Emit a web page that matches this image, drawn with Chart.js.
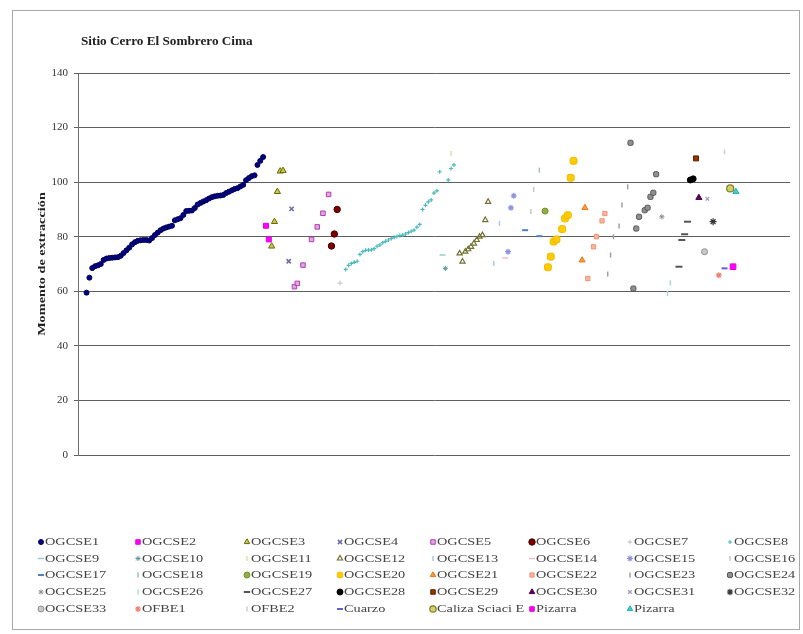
<!DOCTYPE html>
<html>
<head>
<meta charset="utf-8">
<script src="https://cdn.jsdelivr.net/npm/chart.js@4.4.0/dist/chart.umd.min.js"></script>
<style>
  html, body { margin: 0; padding: 0; background: #fff; }
  #wrap { width: 803px; height: 634px; }
</style>
</head>
<body>
<div id="wrap"><canvas id="chart" width="803" height="634"></canvas></div>
<script>
// Momento de extracción per sample, one array per sample group.
// firstSample gives the sample number of each group's first value; null = no reading.
const seriesNames = [
  'OGCSE1', 'OGCSE2', 'OGCSE3', 'OGCSE4', 'OGCSE5', 'OGCSE6', 'OGCSE7', 'OGCSE8',
  'OGCSE9', 'OGCSE10', 'OGCSE11', 'OGCSE12', 'OGCSE13', 'OGCSE14', 'OGCSE15', 'OGCSE16',
  'OGCSE17', 'OGCSE18', 'OGCSE19', 'OGCSE20', 'OGCSE21', 'OGCSE22', 'OGCSE23', 'OGCSE24',
  'OGCSE25', 'OGCSE26', 'OGCSE27', 'OGCSE28', 'OGCSE29', 'OGCSE30', 'OGCSE31', 'OGCSE32',
  'OGCSE33', 'OFBE1', 'OFBE2', 'Cuarzo', 'Caliza Sciaci E', 'Pizarra', 'Pizarra'
];

const firstSample = [
  3, 66, 68, 74, 76, 89, 92, 94,
  128, 129, 131, 134, 146, 150, 151, 159,
  157, 162, 164, 165, 177, 179, 186, 194,
  205, 207, 211, 215, 217, 218, 221, 223,
  220, 225, 227, 227, 229, 230, 231
];

const ogcse1 = [59.5, 65, 68.5, 69.2, 69.5, 70, 71.5, 72, 72.2, 72.3, 72.4, 72.5, 73, 74, 75, 76,
  77.2, 78, 78.5, 78.7, 78.8, 78.8, 78.6, 79.5, 80.6, 81.5, 82.4, 83, 83.4, 83.7, 84, 86, 86.4,
  86.8, 88, 89.4, 89.5, 89.6, 90.5, 91.8, 92.4, 92.9, 93.4, 94, 94.5, 94.8, 95, 95.1, 95.3, 96,
  96.5, 97, 97.5, 97.8, 98.4, 99, 100.7, 101.5, 102.2, 102.5, 106.3, 107.8, 109.2];
const ogcse2 = [84, 79];
const ogcse3 = [76.5, 85.5, 96.5, 104, 104.2];
const ogcse4 = [71, 90.2];
const ogcse5 = [61.7, 62.9, null, 69.6, null, null, 79, null, 83.6, null, 88.6, null, 95.5];
const ogcse6 = [76.6, 81, 90];
const ogcse7 = [63];
const ogcse8 = [68, 69.5, 70.2, 70.6, 71, 73.5, 74.5, 75, 75.1, 75.2, 75.6, 76.5, 77, 77.8, 78.3,
  78.8, 79.3, 79.8, 80.1, 80.4, 80.6, 81, 81.5, 82, 82.4, 83.5, 84.5, 90, 91.5, 92.8, 93.5, 96,
  96.8, 103.8, null, null, 100.8, 105, 106.3];
const ogcse9 = [73.3];
const ogcse10 = [68.4];
const ogcse11 = [110.5];
const ogcse12 = [73.9, 70.9, 74.5, 75.4, 76.3, 77.5, 78.8, 80, 80.6, 86.1, 92.8];
const ogcse13 = [70.2, null, 84.9];
const ogcse14 = [72.2];
const ogcse15 = [74.5, 90.6, 95];
const ogcse16 = [89.2, 97.3];
const ogcse17 = [82.4, null, null, null, null, 80.2];
const ogcse18 = [104.4];
const ogcse19 = [89.4];
const ogcse20 = [68.8, 72.7, 78.2, 79, null, 82.8, 86.7, 87.9, 101.6, 107.8];
const ogcse21 = [71.4, 90.6];
const ogcse22 = [64.7, null, 76.3, 80, null, 85.8, 88.5];
const ogcse23 = [66.3, 73.3, 80, null, 83.9, 91.6, null, 98.3];
const ogcse24 = [114.4, 61, 83, 87.3, null, 89.7, 90.6, 94.6, 96.1, 102.9];
const ogcse25 = [87.3];
const ogcse26 = [59.2, 63.1];
const ogcse27 = [69, 78.8, 80.9, 85.5];
const ogcse28 = [100.8, 101.2];
const ogcse29 = [108.7];
const ogcse30 = [94.3];
const ogcse31 = [93.9];
const ogcse32 = [85.5];
const ogcse33 = [74.5];
const ofbe1 = [65.9];
const ofbe2 = [111.1];
const cuarzo = [68.4];
const caliza = [97.7];
const pizarraA = [69];
const pizarraB = [96.5];

const seriesValues = [
  ogcse1, ogcse2, ogcse3, ogcse4, ogcse5, ogcse6, ogcse7, ogcse8,
  ogcse9, ogcse10, ogcse11, ogcse12, ogcse13, ogcse14, ogcse15, ogcse16,
  ogcse17, ogcse18, ogcse19, ogcse20, ogcse21, ogcse22, ogcse23, ogcse24,
  ogcse25, ogcse26, ogcse27, ogcse28, ogcse29, ogcse30, ogcse31, ogcse32,
  ogcse33, ofbe1, ofbe2, cuarzo, caliza, pizarraA, pizarraB
];

const yTicks = [0, 20, 40, 60, 80, 100, 120, 140];

// marker look for each group: [pointStyle, fill, stroke, radius, borderWidth, rotation]
const markers = [
  ['circle', '#000080', '#00005a', 2.5, 1, 0],
  ['rect', '#ff00ff', '#e000e0', 3.5, 1, 0],
  ['triangle', '#c8c850', '#6b6b00', 3.6, 1, 0],
  ['crossRot', '#6b6ba8', '#6b6ba8', 3, 1.5, 0],
  ['rect', '#e2a6e2', '#b040b0', 3.2, 1, 0],
  ['circle', '#800000', '#400000', 3.2, 1, 0],
  ['cross', '#c0c0c0', '#c0c0c0', 2.5, 1, 0],
  ['cross', '#4cb8b8', '#4cb8b8', 2, 1.2, 0],
  ['line', '#99cccc', '#99cccc', 3, 1.5, 0],
  ['star', '#669999', '#669999', 2.6, 1, 0],
  ['line', '#e0e0a0', '#e0e0a0', 2.5, 1.5, 90],
  ['triangle', 'rgba(255,255,255,0)', '#707030', 3, 1.2, 0],
  ['line', '#b0c4f0', '#b0c4f0', 2.5, 1.5, 90],
  ['line', '#f4b8c8', '#f4b8c8', 3, 1.5, 0],
  ['star', '#9090e0', '#9090e0', 3, 1.2, 0],
  ['line', '#c8c8c8', '#c8c8c8', 2.5, 1.5, 90],
  ['line', '#4f7fbf', '#4f7fbf', 3, 2, 0],
  ['line', '#99c0c0', '#99c0c0', 2.5, 1.5, 90],
  ['circle', '#90b040', '#70902a', 3, 1, 0],
  ['rectRounded', '#ffcc00', '#f0b800', 4, 1, 0],
  ['triangle', '#ff9933', '#e07a20', 3.5, 1, 0],
  ['rect', '#f8b8a0', '#f09070', 3, 1, 0],
  ['line', '#a0a0a0', '#a0a0a0', 2.5, 1.5, 90],
  ['rectRounded', '#909090', '#555555', 3, 1, 0],
  ['star', '#909090', '#909090', 2.6, 1, 0],
  ['line', '#a8d8d8', '#a8d8d8', 2.5, 1.5, 90],
  ['line', '#555555', '#555555', 3.5, 2, 0],
  ['circle', '#000000', '#000000', 3, 1, 0],
  ['rect', '#993300', '#552200', 3.5, 1, 0],
  ['triangle', '#660066', '#440044', 3.5, 1, 0],
  ['crossRot', '#9999cc', '#9999cc', 2.5, 1.2, 0],
  ['star', '#333333', '#333333', 3.5, 1.2, 0],
  ['circle', '#c8c8c8', '#909090', 3, 1, 0],
  ['star', '#f08070', '#f08070', 3, 1.2, 0],
  ['line', '#d0d0d0', '#d0d0d0', 2.5, 1.5, 90],
  ['line', '#6060d0', '#6060d0', 3, 2, 0],
  ['circle', '#d0d070', '#808020', 3.5, 1.2, 0],
  ['rect', '#ff00ff', '#e000e0', 4, 1, 0],
  ['triangle', '#40d0d0', '#20b0b0', 3.5, 1, 0]
];

const datasets = seriesValues.map((vals, i) => {
  const [style, fill, stroke, r, bw, rot] = markers[i];
  return {
    label: seriesNames[i],
    data: vals.map((v, j) => ({ x: firstSample[i] + j, y: v })).filter(p => p.y !== null),
    pointStyle: style,
    backgroundColor: fill,
    borderColor: stroke,
    pointRadius: r,
    pointBorderWidth: bw,
    pointRotation: rot,
    showLine: false
  };
});

// stretched serif text, the way the labels were set in the sheet
function wideText(ctx, text, x, y, stretch) {
  ctx.save();
  ctx.translate(x, y);
  ctx.scale(stretch, 1);
  ctx.fillText(text, 0, 0);
  ctx.restore();
}

const legendCols = [41, 138, 247, 340, 433, 532, 630, 730];
const legendRows = [542, 558.5, 575, 592, 609];

const sheetDecor = {
  id: 'sheetDecor',
  beforeDraw(chart) {
    const ctx = chart.ctx;
    ctx.save();
    ctx.fillStyle = '#fff';
    ctx.fillRect(0, 0, chart.width, chart.height);
    ctx.strokeStyle = '#a8a8a8';
    ctx.lineWidth = 1;
    ctx.strokeRect(12.5, 10.5, 787, 619);
    ctx.restore();
  },
  afterDraw(chart) {
    const ctx = chart.ctx;
    const area = chart.chartArea;
    ctx.save();
    ctx.fillStyle = '#222';
    ctx.textBaseline = 'middle';
    ctx.textAlign = 'left';
    ctx.font = 'bold 12px "Liberation Serif"';
    wideText(ctx, 'Sitio Cerro El Sombrero Cima', 81, 42, 1.1);

    // vertical axis title
    ctx.save();
    ctx.translate(42, (area.top + area.bottom) / 2);
    ctx.rotate(-Math.PI / 2);
    ctx.textAlign = 'center';
    ctx.font = 'bold 11px "Liberation Serif"';
    ctx.scale(1.3, 1);
    ctx.fillText('Momento de extracción', 0, 0);
    ctx.restore();

    // legend grid, 8 columns
    ctx.font = '11px "Liberation Serif"';
    chart.data.datasets.forEach((ds, i) => {
      const x = legendCols[i % 8];
      const y = legendRows[Math.floor(i / 8)];
      ctx.fillStyle = ds.backgroundColor;
      ctx.strokeStyle = ds.borderColor;
      ctx.lineWidth = ds.pointBorderWidth;
      Chart.helpers.drawPoint(ctx, {
        pointStyle: ds.pointStyle,
        radius: Math.min(ds.pointRadius, 3.2),
        rotation: ds.pointRotation,
        borderWidth: ds.pointBorderWidth
      }, x, y);
      ctx.fillStyle = '#444';
      wideText(ctx, ds.label, x + 4, y + 0.5, 1.3);
    });
    ctx.restore();
  }
};

new Chart(document.getElementById('chart'), {
  type: 'scatter',
  data: { datasets },
  plugins: [sheetDecor],
  options: {
    responsive: false,
    animation: false,
    devicePixelRatio: 1,
    layout: { padding: { left: 12, top: 73, right: 13, bottom: 179 } },
    plugins: {
      legend: { display: false },
      title: { display: false },
      tooltip: { enabled: false }
    },
    scales: {
      x: { type: 'linear', min: 0, max: 250, display: false },
      y: {
        min: 0,
        max: 140,
        afterFit(scale) { scale.width = 66; },
        afterBuildTicks(scale) { scale.ticks = yTicks.map(v => ({ value: v })); },
        border: { color: '#707070', width: 1 },
        grid: { color: '#606060', lineWidth: 1, tickLength: 4, drawTicks: true },
        ticks: {
          padding: 6,
          color: '#333',
          font: { family: '"Liberation Serif"', size: 11 }
        }
      }
    }
  }
});
</script>
</body>
</html>
